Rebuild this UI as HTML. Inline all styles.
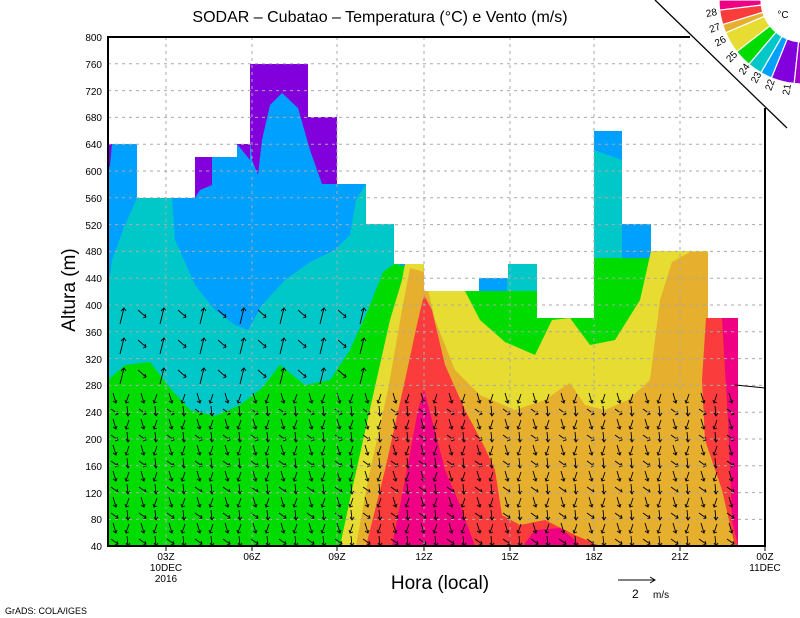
<!DOCTYPE html>
<html><head><meta charset="utf-8"><style>
html,body{margin:0;padding:0;background:#fff;}
svg{display:block;font-family:"Liberation Sans",sans-serif;}
</style></head><body>
<svg width="800" height="618" viewBox="0 0 800 618" xmlns="http://www.w3.org/2000/svg">
<defs>
<clipPath id="data">
<path d="M108,546 L108,144 L137,144 L137,198 L195,198 L195,157 L237,157 L237,144 L250,144 L250,64 L308,64 L308,117 L337,117 L337,184 L366,184 L366,224 L394,224 L394,264 L424,264 L424,291 L479,291 L479,278 L508,278 L508,264 L537,264 L537,318 L594,318 L594,131 L622,131 L622,224 L651,224 L651,251 L708,251 L708,318 L738,318 L738,546 Z"/>
</clipPath>
<pattern id="arr" x="108" y="392" width="28" height="26" patternUnits="userSpaceOnUse">
<g stroke="#000" stroke-width="0.9" fill="none">
<line x1="5" y1="1" x2="8" y2="11"/><polyline points="5,9 8,11 9,8"/>
<line x1="21" y1="2" x2="18" y2="11"/><polyline points="17,8 18,11 21,10"/>
<line x1="3" y1="17" x2="10" y2="22"/><polyline points="7,23 10,22 9,19"/>
<line x1="19" y1="14" x2="20" y2="24"/><polyline points="18,21 20,24 22,21"/>
</g>
</pattern>
<pattern id="arr2" x="114" y="300" width="40" height="30" patternUnits="userSpaceOnUse">
<g stroke="#000" stroke-width="0.9" fill="none">
<line x1="6" y1="24" x2="10" y2="8"/><polyline points="7,11 10,8 12,11"/>
<line x1="24" y1="10" x2="32" y2="17"/><polyline points="29,18 32,17 31,14"/>
</g>
</pattern>
</defs>
<g clip-path="url(#data)">
<rect x="108" y="37" width="640" height="510" fill="#00a0ff"/>
<path d="M195,157 L212,157 L212,185 L200,190 L195,198 Z" fill="#8200dc"/>
<path d="M237,144 L250,144 L250,160 Z" fill="#8200dc"/>
<path d="M108,144 L112,144 L110,165 L108,170 Z" fill="#8200dc"/>
<path d="M250,64 L337,64 L337,184 L322,184 L310,150 L298,108 L282,93 L270,105 L262,140 L258,175 L252,160 L250,140 Z" fill="#8200dc"/>
<path d="M108,290 L112,260 L125,225 L137,198 L172,198 L175,240 L195,285 L215,310 L235,325 L248,330 L262,305 L285,280 L310,262 L335,250 L350,235 L356,200 L366,184 L380,184 L400,240 L400,546 L108,546 Z" fill="#00c8c8"/>
<path d="M594,150 L622,160 L622,280 L594,280 Z" fill="#00c8c8"/>
<path d="M507,264 L537,264 L537,300 L507,300 Z" fill="#00c8c8"/>
<path d="M108,380 L125,365 L150,362 L170,388 L190,410 L215,416 L240,405 L262,388 L280,365 L305,385 L330,380 L350,350 L368,310 L383,272 L394,264 L424,270 L460,291 L537,291 L594,300 L594,258 L651,258 L651,330 L760,546 L108,546 Z" fill="#00dc00"/>
<path d="M340,546 L352,490 L372,400 L390,320 L402,280 L405,264 L440,264 L455,291 L465,291 L480,320 L505,342 L535,355 L552,320 L570,318 L590,345 L615,340 L640,300 L651,251 L740,251 L740,546 Z" fill="#e6dc32"/>
<path d="M356,546 L368,480 L388,390 L402,310 L410,268 L424,272 L435,320 L455,370 L480,395 L515,410 L545,400 L562,388 L570,383 L585,405 L605,410 L628,400 L650,380 L660,300 L672,262 L690,252 L708,252 L708,318 L740,318 L740,546 Z" fill="#e6af2d"/>
<path d="M366,546 L385,470 L405,380 L418,320 L424,295 L432,310 L445,365 L465,410 L485,448 L495,470 L502,515 L520,525 L545,520 L575,535 L600,546 Z" fill="#fa3c3c"/>
<path d="M702,380 L706,318 L738,318 L738,546 L735,546 L722,490 L705,440 Z" fill="#fa3c3c"/>
<path d="M392,546 L405,480 L418,410 L424,390 L432,420 L445,470 L460,505 L475,546 Z" fill="#f00082"/>
<path d="M523,546 L535,530 L560,528 L575,540 L580,546 Z" fill="#f00082"/>
<path d="M722,318 L738,318 L738,546 L732,520 L728,420 Z" fill="#f00082"/>
<rect x="108" y="392" width="632" height="154" fill="url(#arr)"/>
<rect x="108" y="300" width="260" height="92" fill="url(#arr2)"/>
</g>
<g stroke="#aaa" stroke-width="1" stroke-dasharray="3,4">
<line x1="108" y1="63.8" x2="765" y2="63.8"/><line x1="108" y1="90.6" x2="765" y2="90.6"/><line x1="108" y1="117.4" x2="765" y2="117.4"/><line x1="108" y1="144.2" x2="765" y2="144.2"/><line x1="108" y1="171" x2="765" y2="171"/><line x1="108" y1="197.8" x2="765" y2="197.8"/><line x1="108" y1="224.6" x2="765" y2="224.6"/><line x1="108" y1="251.4" x2="765" y2="251.4"/><line x1="108" y1="278.2" x2="765" y2="278.2"/><line x1="108" y1="305" x2="765" y2="305"/><line x1="108" y1="331.8" x2="765" y2="331.8"/><line x1="108" y1="358.6" x2="765" y2="358.6"/><line x1="108" y1="385.4" x2="765" y2="385.4"/><line x1="108" y1="412.2" x2="765" y2="412.2"/><line x1="108" y1="439" x2="765" y2="439"/><line x1="108" y1="465.8" x2="765" y2="465.8"/><line x1="108" y1="492.6" x2="765" y2="492.6"/><line x1="108" y1="519.4" x2="765" y2="519.4"/>
<line x1="166" y1="37" x2="166" y2="546"/><line x1="252" y1="37" x2="252" y2="546"/><line x1="337" y1="37" x2="337" y2="546"/><line x1="424" y1="37" x2="424" y2="546"/><line x1="510" y1="37" x2="510" y2="546"/><line x1="594" y1="37" x2="594" y2="546"/><line x1="680" y1="37" x2="680" y2="546"/>
</g>
<polygon points="640,0 800,0 800,160" fill="#fff"/>
<polyline points="690,37 108,37 108,546 765,546 765,108" fill="none" stroke="#000" stroke-width="2"/>
<line x1="655" y1="0" x2="787" y2="128" stroke="#000" stroke-width="1.3"/>
<line x1="735" y1="385" x2="765" y2="388" stroke="#000"/>
<g stroke="#000" stroke-width="1">
<line x1="166" y1="546" x2="166" y2="551"/><line x1="252" y1="546" x2="252" y2="551"/><line x1="337" y1="546" x2="337" y2="551"/><line x1="424" y1="546" x2="424" y2="551"/><line x1="510" y1="546" x2="510" y2="551"/><line x1="594" y1="546" x2="594" y2="551"/><line x1="680" y1="546" x2="680" y2="551"/><line x1="765" y1="546" x2="765" y2="551"/>
</g>
<g font-size="10" text-anchor="end" fill="#000">
<text x="102" y="41">800</text><text x="102" y="68">760</text><text x="102" y="95">720</text><text x="102" y="121">680</text><text x="102" y="148">640</text><text x="102" y="175">600</text><text x="102" y="202">560</text><text x="102" y="229">520</text><text x="102" y="255">480</text><text x="102" y="282">440</text><text x="102" y="309">400</text><text x="102" y="336">360</text><text x="102" y="363">320</text><text x="102" y="389">280</text><text x="102" y="416">240</text><text x="102" y="443">200</text><text x="102" y="470">160</text><text x="102" y="497">120</text><text x="102" y="523">80</text><text x="102" y="550">40</text>
</g>
<g font-size="10" text-anchor="middle" fill="#000">
<text x="166" y="560">03Z</text><text x="166" y="571">10DEC</text><text x="166" y="582">2016</text>
<text x="252" y="560">06Z</text><text x="337" y="560">09Z</text><text x="424" y="560">12Z</text><text x="510" y="560">15Z</text><text x="594" y="560">18Z</text><text x="680" y="560">21Z</text>
<text x="765" y="560">00Z</text><text x="765" y="571">11DEC</text>
</g>
<text x="380" y="22" font-size="16" text-anchor="middle">SODAR – Cubatao – Temperatura (°C) e Vento (m/s)</text>
<text x="440" y="589" font-size="19" text-anchor="middle">Hora (local)</text>
<text transform="translate(75,290) rotate(-90)" font-size="19" text-anchor="middle">Altura (m)</text>
<g stroke="#000" fill="none"><line x1="618" y1="580" x2="655" y2="580"/><polyline points="650,577 655,580 650,583"/></g>
<text x="632" y="598" font-size="12">2</text><text x="653" y="598" font-size="10">m/s</text>
<text x="5" y="614" font-size="9">GrADS: COLA/IGES</text>
<g stroke="#fff" stroke-width="1.2">
<path d="M719,0 A84,84 0 0 0 719.6,10.2 L761.3,5.1 A42,42 0 0 1 761,0 Z" fill="#f00082"/>
<path d="M719.6,10.2 A84,84 0 0 0 722.7,24.6 L762.8,12.3 A42,42 0 0 1 761.3,5.1 Z" fill="#fa3c3c"/>
<path d="M722.7,24.6 A84,84 0 0 0 725.7,32.8 L764.3,16.4 A42,42 0 0 1 762.8,12.3 Z" fill="#e6af2d"/>
<path d="M725.7,32.8 A84,84 0 0 0 736.8,51.7 L769.9,25.9 A42,42 0 0 1 764.3,16.4 Z" fill="#e6dc32"/>
<path d="M736.8,51.7 A84,84 0 0 0 749,64.3 L776,32.2 A42,42 0 0 1 769.9,25.9 Z" fill="#00dc00"/>
<path d="M749,64.3 A84,84 0 0 0 761,72.7 L782,36.4 A42,42 0 0 1 776,32.2 Z" fill="#00c8c8"/>
<path d="M761,72.7 A84,84 0 0 0 771.5,77.9 L787.3,38.9 A42,42 0 0 1 782,36.4 Z" fill="#00a0ff"/>
<path d="M771.5,77.9 A84,84 0 0 0 794.2,83.5 L798.6,41.8 A42,42 0 0 1 787.3,38.9 Z" fill="#8200dc"/>
<path d="M794.2,83.5 A84,84 0 0 0 810.3,83.7 L806.7,41.8 A42,42 0 0 1 798.6,41.8 Z" fill="#a000c8"/>
</g>
<g font-size="10" fill="#000" text-anchor="middle">
<text transform="translate(712,16) rotate(-10)">28</text>
<text transform="translate(716,31) rotate(-20)">27</text>
<text transform="translate(722,44) rotate(-30)">26</text>
<text transform="translate(734,59) rotate(-45)">25</text>
<text transform="translate(747,71) rotate(-55)">24</text>
<text transform="translate(759,79) rotate(-62)">23</text>
<text transform="translate(773,86) rotate(-70)">22</text>
<text transform="translate(790,90) rotate(-80)">21</text>
<text x="783" y="18">°C</text>
</g>
</svg>
</body></html>
